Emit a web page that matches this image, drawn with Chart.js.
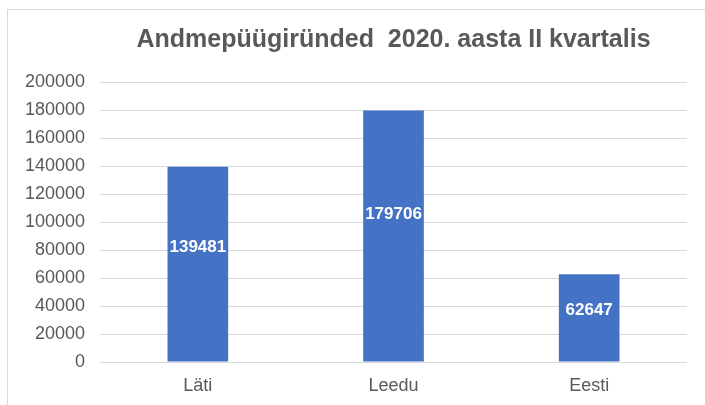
<!DOCTYPE html>
<html>
<head>
<meta charset="utf-8">
<script src="https://cdn.jsdelivr.net/npm/chart.js@4.4.0/dist/chart.umd.min.js"></script>
<style>
  html, body { margin: 0; padding: 0; background: #fff; overflow: hidden; }
  #wrap { position: relative; width: 705px; height: 405px; }
  #frame {
    position: absolute; left: 7px; top: 9px; width: 720px; height: 420px;
    border: 1.5px solid #d9d9d9; box-sizing: border-box;
  }
  canvas { position: absolute; left: 0; top: 0; }
</style>
</head>
<body>
<div id="wrap">
  <div id="frame"></div>
  <canvas id="chart" width="705" height="405"></canvas>
</div>
<script>
const categories = ['Läti', 'Leedu', 'Eesti'];
const attacks = [139481, 179706, 62647];
const yTicks = [0, 20000, 40000, 60000, 80000, 100000, 120000, 140000, 160000, 180000, 200000];

const textColor = '#595959';

// value labels inside the bars, a bit above the middle like Excel draws them
const barLabels = {
    id: 'barLabels',
    afterDatasetsDraw(chart) {
        const ctx = chart.ctx;
        const meta = chart.getDatasetMeta(0);
        ctx.save();
        ctx.fillStyle = '#ffffff';
        ctx.font = 'bold 17px "Liberation Sans", Arial, sans-serif';
        ctx.textAlign = 'center';
        ctx.textBaseline = 'middle';
        meta.data.forEach((bar, i) => {
            const y = bar.base + (bar.y - bar.base) * 0.585;
            ctx.fillText(String(attacks[i]), bar.x, y);
        });
        ctx.restore();
    }
};

new Chart(document.getElementById('chart'), {
    type: 'bar',
    data: {
        labels: categories,
        datasets: [{
            data: attacks,
            backgroundColor: '#4472c4',
            borderWidth: 0,
            barPercentage: 0.31,
            categoryPercentage: 1
        }]
    },
    options: {
        responsive: false,
        animation: false,
        layout: { padding: { left: 1, right: 18, top: 0, bottom: 0 } },
        plugins: {
            legend: { display: false },
            tooltip: { enabled: false },
            title: {
                display: true,
                fullSize: false,
                text: 'Andmepüügiründed  2020. aasta II kvartalis',
                color: textColor,
                font: { family: '"Liberation Sans", Arial, sans-serif', size: 25, weight: 'bold' },
                padding: { top: 25, bottom: 27 }
            }
        },
        scales: {
            x: {
                grid: { display: false, drawTicks: false },
                border: { display: false },
                ticks: {
                    color: textColor,
                    padding: 13,
                    font: { family: '"Liberation Sans", Arial, sans-serif', size: 18 }
                },
                afterFit(scale) { scale.height = 43; }
            },
            y: {
                min: 0,
                max: 200000,
                grid: { color: '#d9d9d9', lineWidth: 1, drawTicks: false },
                border: { display: false },
                afterBuildTicks(scale) {
                    scale.ticks = yTicks.map(v => ({ value: v }));
                },
                ticks: {
                    color: textColor,
                    padding: 15,
                    font: { family: '"Liberation Sans", Arial, sans-serif', size: 18 },
                    callback: v => String(v)
                },
                afterFit(scale) { scale.width = 99; }
            }
        }
    },
    plugins: [barLabels]
});
</script>
</body>
</html>
